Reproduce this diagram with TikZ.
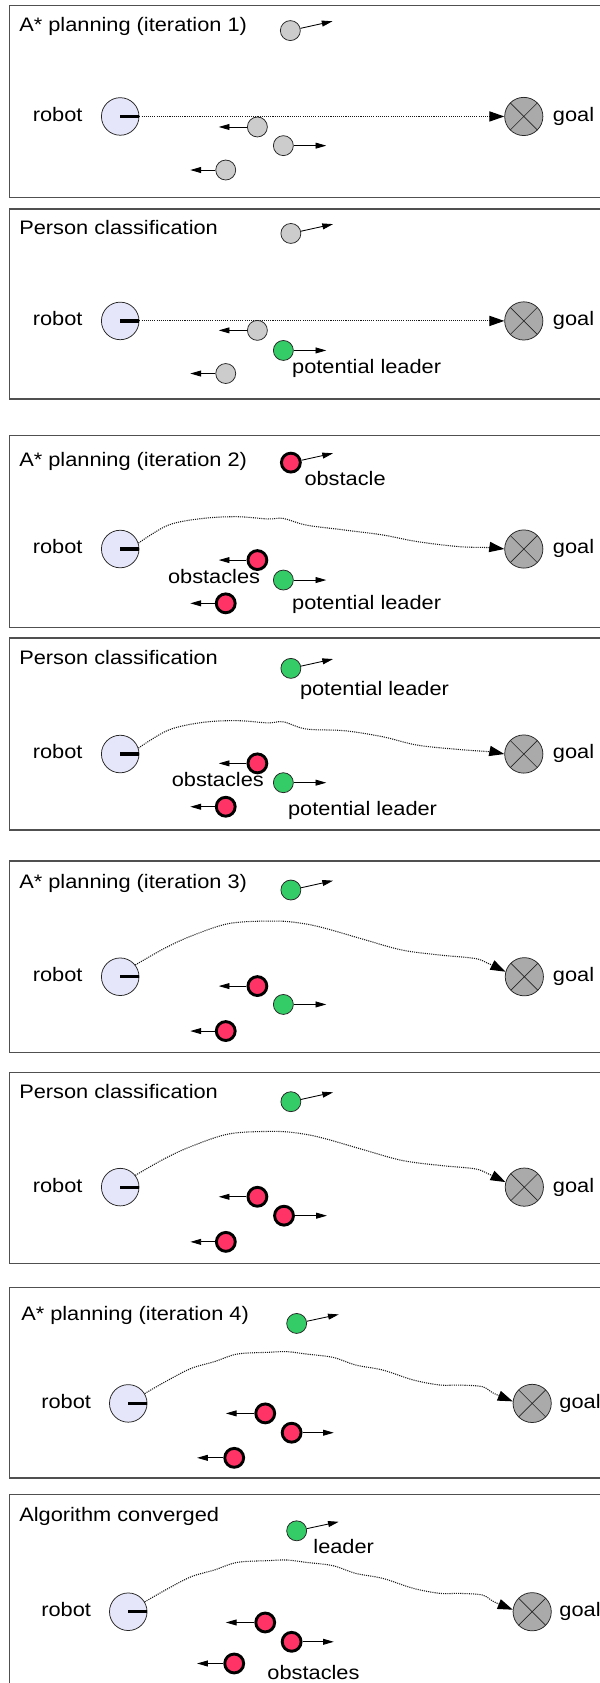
\documentclass[tikz,border=0pt]{standalone}
\usepackage{fontspec}
\newfontfamily\diagfont[FakeStretch=1.115]{Liberation Sans}
\usetikzlibrary{arrows.meta,calc}

\definecolor{robotfill}{RGB}{230,230,250}
\definecolor{crowd}{RGB}{204,204,204}
\definecolor{goalfill}{RGB}{170,170,170}
\definecolor{candidate}{RGB}{51,204,102}
\definecolor{blocker}{RGB}{255,51,102}
\definecolor{framegray}{RGB}{80,80,80}

\tikzset{
  panel/.style={draw=framegray, line width=1.1pt},
  lbl/.style={font=\diagfont\fontsize{18.2}{20}\selectfont, inner sep=0pt,
              text height=13pt, text depth=3.8pt},
  robot/.style={circle, draw=black!85, line width=0.7pt, fill=robotfill,
                minimum size=35pt, inner sep=0pt},
  goal/.style={circle, draw=black!85, line width=0.7pt, fill=goalfill,
               minimum size=35.6pt, inner sep=0pt,
               path picture={\draw[line width=0.6pt]
                 (path picture bounding box.north west) -- (path picture bounding box.south east)
                 (path picture bounding box.north east) -- (path picture bounding box.south west);}},
  person/.style={circle, draw=black!85, line width=0.7pt, fill=crowd,
                 minimum size=18.6pt, inner sep=0pt},
  lead/.style={person, fill=candidate},
  block/.style={circle, draw=black, line width=2.7pt, fill=blocker,
                minimum size=17.6pt, inner sep=0pt},
  walk/.style={line width=0.8pt, -{Triangle[length=10pt,width=5.5pt]}},
  route/.style={dash pattern=on 1pt off 1pt, line width=1pt, draw=black!90,
                -{Triangle[length=14pt,width=9.5pt,color=black,fill=black]}},
  heading/.style={line width=3pt},
}

% a pedestrian with its velocity arrow: style, name, x, y, dx, dy
\newcommand\walker[6]{%
  \node[#1] (#2) at (#3,#4) {};
  \coordinate (#2h) at ($(#2)+(#5,#6)$);
  \draw[walk] (#2) -- (#2h);}

% robot with its heading bar and label: name, x, y, label right edge
\newcommand\robotat[4]{%
  \node[robot] (#1) at (#2,#3) {};
  \draw[heading] (#1.center) -- (#1.east);
  \node[lbl, anchor=east] (#1l) at (#4,#3) {robot};}

% goal with its label: name, x, y, label left edge
\newcommand\goalat[4]{%
  \node[goal] (#1) at (#2,#3) {};
  \node[lbl, anchor=west] (#1l) at (#4,#3) {goal};}

\begin{document}
\begin{tikzpicture}[x=1pt, y=-1pt]
\useasboundingbox (0,0) rectangle (559,1568);
\clip (0,0) rectangle (559,1568);
\fill[white] (0,0) rectangle (559,1568);

% ---------- iteration 1 ----------
\draw[panel] (8.5,5.2) rectangle (620,183.8);
\node[lbl, anchor=west] (t1) at (17.8,25) {A* planning (iteration 1)};
\robotat{r1}{112}{108.5}{77}
\goalat{g1}{488}{108.5}{515}
\draw[route] (r1.east) -- (g1.west);
\walker{person}{a1}{270.5}{28.5}{39.3}{-8.7}
\walker{person}{b1}{239.8}{118.3}{-36}{0}
\walker{person}{c1}{264}{135.7}{40}{0}
\walker{person}{d1}{210.3}{158.4}{-33}{0}

% ---------- classification 1 ----------
\draw[panel] (8.5,194.7) rectangle (620,371.8);
\node[lbl, anchor=west] (t2) at (17.8,214) {Person classification};
\robotat{r2}{112}{299}{77}
\goalat{g2}{488}{299}{515}
\draw[route] (r2.east) -- (g2.west);
\walker{person}{a2}{271}{217.5}{39.3}{-8.7}
\walker{person}{b2}{239.8}{307.8}{-36}{0}
\walker{lead}{c2}{264}{326.5}{40}{0}
\walker{person}{d2}{210.3}{348}{-33}{0}
\node[lbl, anchor=west] (c2l) at (272,343.3) {potential leader};

% ---------- iteration 2 ----------
\draw[panel] (8.5,405.4) rectangle (620,584.4);
\node[lbl, anchor=west] (t3) at (17.8,430) {A* planning (iteration 2)};
\robotat{r3}{112}{511.5}{77}
\goalat{g3}{488}{511.5}{515}
\begin{scope}[shift={(r3)}]
\draw[route] plot[smooth, tension=0.55] coordinates {(r3.18) (44.9,-22.3) (77,-28.5)
  (109.1,-30.1) (137.6,-28) (151.9,-28.5) (173.3,-22.3) (209,-17.7) (244.6,-13.1)
  (276.7,-6.9) (315.9,-2.2) (344.4,-1.3) (g3.west)};
\end{scope}
\walker{block}{a3}{271}{431}{39.3}{-8.7}
\node[lbl, anchor=west] (a3l) at (283.5,447.4) {obstacle};
\walker{block}{b3}{239.8}{521.8}{-36}{0}
\walker{lead}{c3}{264}{540.4}{40}{0}
\walker{block}{d3}{210.3}{562.1}{-33}{0}
\node[lbl, anchor=east] (b3l) at (242.5,539) {obstacles};
\node[lbl, anchor=west] (c3l) at (272,563) {potential leader};

% ---------- classification 2 ----------
\draw[panel] (8.5,594.4) rectangle (620,773.3);
\node[lbl, anchor=west] (t4) at (17.8,614.3) {Person classification};
\robotat{r4}{112}{702.5}{77}
\goalat{g4}{488}{702.5}{515}
\begin{scope}[shift={(r4)}]
\draw[route] plot[smooth, tension=0.55] coordinates {(r4.18) (44.9,-22.3) (77,-29.5)
  (109.1,-31.1) (137.6,-29) (151.9,-30) (173.3,-23.3) (209,-21.7) (244.6,-16.1)
  (276.7,-8.3) (315.9,-4.2) (344.4,-2.1) (g4.west)};
\end{scope}
\walker{lead}{a4}{271}{622.7}{39.3}{-8.7}
\node[lbl, anchor=west] (a4l) at (279.3,643.7) {potential leader};
\walker{block}{b4}{239.8}{711.2}{-36}{0}
\walker{lead}{c4}{264}{729.2}{40}{0}
\walker{block}{d4}{210.3}{751.6}{-33}{0}
\node[lbl, anchor=east] (b4l) at (246,728.5) {obstacles};
\node[lbl, anchor=west] (c4l) at (268.2,755) {potential leader};

% ---------- iteration 3 ----------
\draw[panel] (8.5,802.2) rectangle (620,980.2);
\node[lbl, anchor=west] (t5) at (17.8,823) {A* planning (iteration 3)};
\robotat{r5}{112}{910}{77}
\goalat{g5}{488.5}{910}{515}
\begin{scope}[shift={(r5)}]
\draw[route] plot[smooth, tension=0.55] coordinates {(r5.38) (41.3,-26.5) (66.3,-38)
  (102,-49.7) (144.8,-51.9) (169.7,-49.7) (191.1,-45.1) (226.8,-34.8) (262.4,-24.9)
  (298.1,-20.2) (330.2,-17.1) (342.7,-12.5) (g5.165)};
\end{scope}
\walker{lead}{a5}{271}{829.2}{39.3}{-8.7}
\walker{block}{b5}{239.8}{918.7}{-36}{0}
\walker{lead}{c5}{264}{935.8}{40}{0}
\walker{block}{d5}{210.3}{960.6}{-33}{0}

% ---------- classification 3 ----------
\draw[panel] (8.5,999) rectangle (620,1177);
\node[lbl, anchor=west] (t6) at (17.8,1018.6) {Person classification};
\robotat{r6}{112}{1106}{77}
\goalat{g6}{488.5}{1106}{515}
\begin{scope}[shift={(r6)}]
\draw[route] plot[smooth, tension=0.55] coordinates {(r6.38) (41.3,-26.5) (66.3,-38)
  (102,-49.7) (144.8,-51.9) (169.7,-49.7) (191.1,-45.1) (226.8,-34.8) (262.4,-24.9)
  (298.1,-20.2) (330.2,-17.1) (342.7,-12.5) (g6.165)};
\end{scope}
\walker{lead}{a6}{271}{1026.4}{39.3}{-8.7}
\walker{block}{b6}{239.8}{1115}{-36}{0}
\walker{block}{c6}{264.6}{1132.6}{40}{0}
\walker{block}{d6}{210.4}{1157}{-33}{0}

% ---------- iteration 4 ----------
\draw[panel] (8.5,1199.2) rectangle (620,1377);
\node[lbl, anchor=west] (t7) at (19.6,1225.2) {A* planning (iteration 4)};
\robotat{r7}{119.5}{1307.5}{85}
\goalat{g7}{495.8}{1307.5}{521}
\begin{scope}[shift={(r7)}]
\draw[route] plot[smooth, tension=0.55] coordinates {(r7.31) (37.4,-21.8) (58.8,-32.7)
  (80.2,-38.9) (101.6,-46) (130.1,-47.6) (148,-48.2) (165.8,-46) (190.7,-42.9)
  (212.1,-35.7) (237.1,-31.1) (265.6,-21.8) (290.6,-17.1) (308.4,-17.1)
  (329.8,-15.6) (340.5,-9.4) (g7.174)};
\end{scope}
\walker{lead}{a7}{276.4}{1233}{39.2}{-8.4}
\walker{block}{b7}{247.1}{1316.8}{-36.7}{0}
\walker{block}{c7}{271.7}{1334.8}{39.3}{0}
\walker{block}{d7}{218.2}{1358.2}{-34.6}{0}

% ---------- converged ----------
\draw[panel] (8.5,1392.3) rectangle (620,1620);
\node[lbl, anchor=west] (t8) at (17.8,1412.5) {Algorithm converged};
\robotat{r8}{119.5}{1501.6}{85}
\goalat{g8}{495.8}{1501.6}{521}
\begin{scope}[shift={(r8)}]
\draw[route] plot[smooth, tension=0.55] coordinates {(r8.31) (37.4,-21.8) (58.8,-32.7)
  (80.2,-38.9) (101.6,-46) (130.1,-47.6) (148,-48.2) (165.8,-46) (190.7,-42.9)
  (212.1,-35.7) (237.1,-31.1) (265.6,-21.8) (290.6,-17.1) (308.4,-17.1)
  (329.8,-15.6) (340.5,-9.4) (g8.174)};
\end{scope}
\walker{lead}{a8}{276.4}{1426.2}{39.2}{-8.4}
\node[lbl, anchor=west] (a8l) at (291.8,1442.6) {leader};
\walker{block}{b8}{247.1}{1511.6}{-36.7}{0}
\walker{block}{c8}{271.7}{1529.6}{39.3}{0}
\walker{block}{d8}{218.2}{1549.8}{-34.6}{0}
\node[lbl, anchor=west] (d8l) at (249,1560) {obstacles};
\end{tikzpicture}
\end{document}
